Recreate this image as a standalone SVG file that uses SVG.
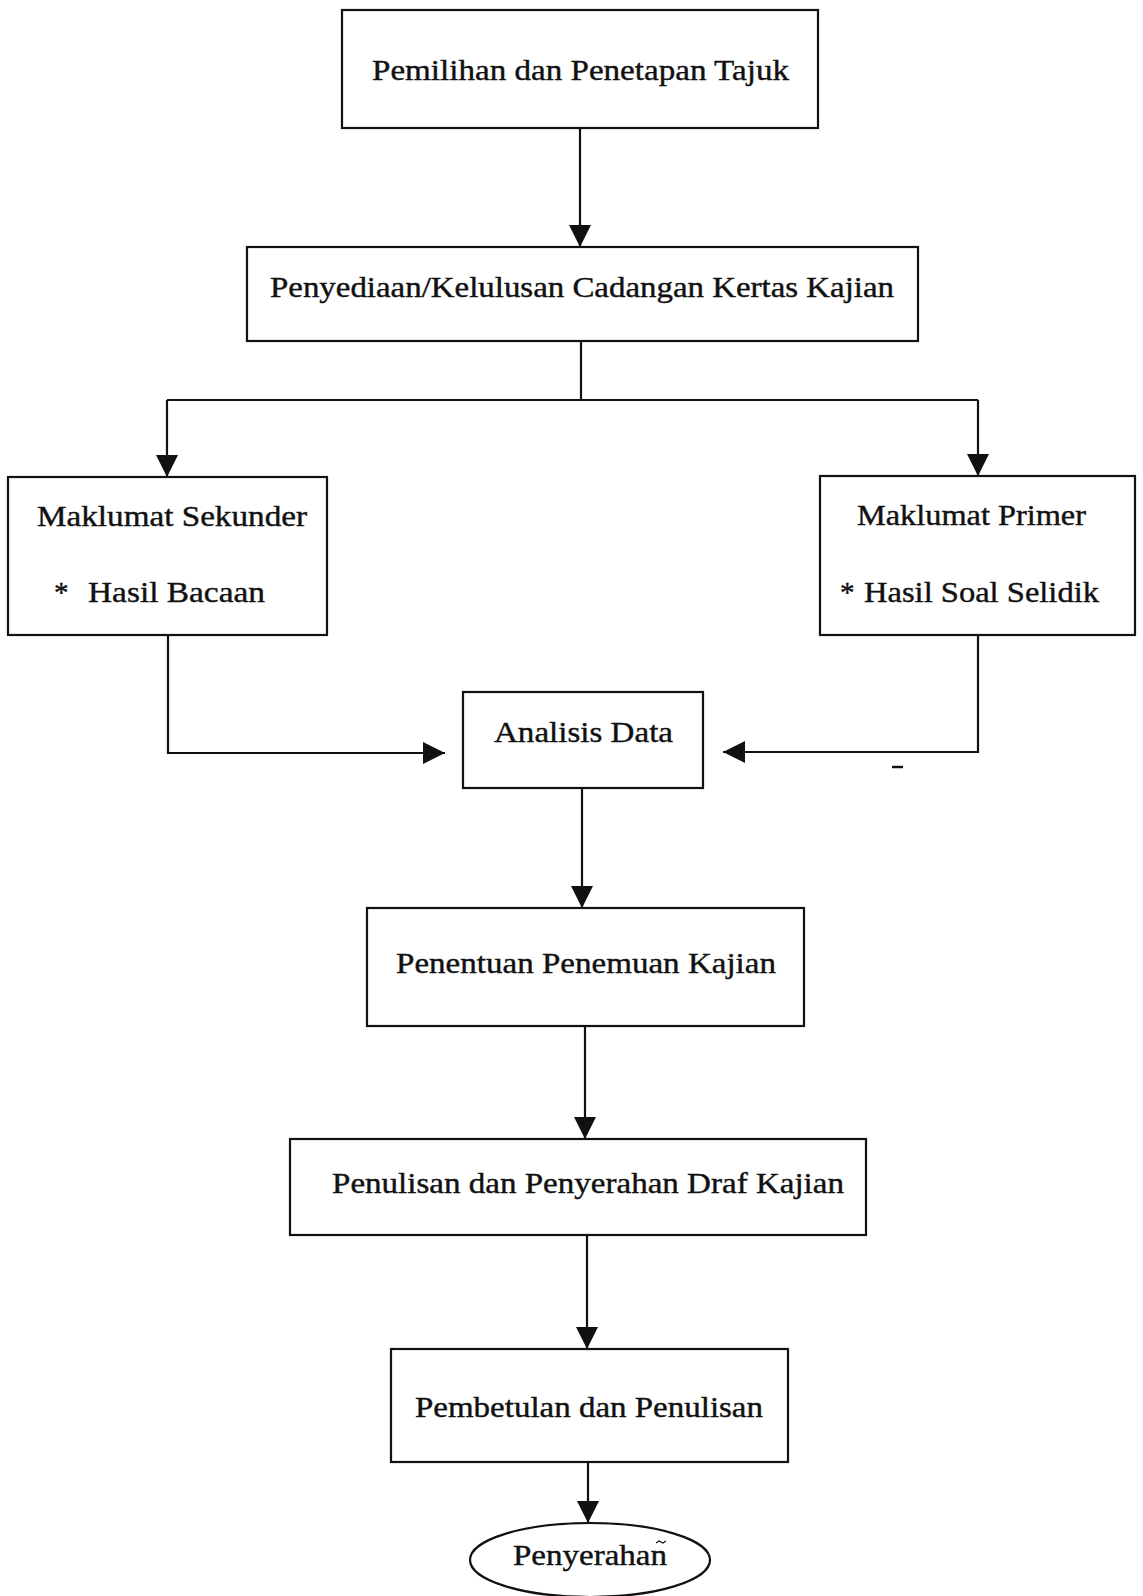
<svg xmlns="http://www.w3.org/2000/svg" width="1143" height="1596" viewBox="0 0 1143 1596">
<style>
.box{fill:#fff;stroke:#111;stroke-width:2.2}
.ln{fill:none;stroke:#111;stroke-width:2.2}
.t{font-family:'Liberation Serif',serif;font-size:29px;fill:#111;stroke:#111;stroke-width:0.4}
</style>
<defs>
<marker id="ah" markerUnits="userSpaceOnUse" markerWidth="22" markerHeight="22" refX="22" refY="11" orient="auto" viewBox="0 0 22 22">
<path d="M0,0 L22,11 L0,22 z" fill="#111"/>
</marker>
</defs>
<rect width="1143" height="1596" fill="#fff"/>
<g id="connectors">
<line class="ln" x1="580" y1="128" x2="580" y2="247" marker-end="url(#ah)"/>
<polyline class="ln" points="581,341 581,400"/>
<polyline class="ln" points="167,400 978,400"/>
<line class="ln" x1="167" y1="400" x2="167" y2="477" marker-end="url(#ah)"/>
<line class="ln" x1="978" y1="400" x2="978" y2="476" marker-end="url(#ah)"/>
<polyline class="ln" points="168,635 168,753 445,753" marker-end="url(#ah)"/>
<polyline class="ln" points="978,635 978,752 723,752" marker-end="url(#ah)"/>
<line class="ln" x1="582" y1="788" x2="582" y2="908" marker-end="url(#ah)"/>
<line class="ln" x1="585" y1="1026" x2="585" y2="1139" marker-end="url(#ah)"/>
<line class="ln" x1="587" y1="1235" x2="587" y2="1349" marker-end="url(#ah)"/>
<line class="ln" x1="588" y1="1462" x2="588" y2="1523" marker-end="url(#ah)"/>
</g>
<g id="n1">
<rect class="box" x="342" y="10" width="476" height="118"/>
<text class="t" x="372" y="80" textLength="417" lengthAdjust="spacingAndGlyphs">Pemilihan dan Penetapan Tajuk</text>
</g>
<g id="n2">
<rect class="box" x="247" y="247" width="671" height="94"/>
<text class="t" x="270" y="297" textLength="624" lengthAdjust="spacingAndGlyphs">Penyediaan/Kelulusan Cadangan Kertas Kajian</text>
</g>
<g id="n3">
<rect class="box" x="8" y="477" width="319" height="158"/>
<text class="t" x="37" y="526" textLength="270" lengthAdjust="spacingAndGlyphs">Maklumat Sekunder</text>
<text class="t" x="54" y="602">*</text>
<text class="t" x="88" y="602" textLength="177" lengthAdjust="spacingAndGlyphs">Hasil Bacaan</text>
</g>
<g id="n4">
<rect class="box" x="820" y="476" width="315" height="159"/>
<text class="t" x="857" y="525" textLength="229" lengthAdjust="spacingAndGlyphs">Maklumat Primer</text>
<text class="t" x="840" y="602">*</text>
<text class="t" x="864" y="602" textLength="235" lengthAdjust="spacingAndGlyphs">Hasil Soal Selidik</text>
</g>
<g id="n5">
<rect class="box" x="463" y="692" width="240" height="96"/>
<text class="t" x="494" y="742" textLength="179" lengthAdjust="spacingAndGlyphs">Analisis Data</text>
</g>
<line x1="892" y1="767" x2="903" y2="767" stroke="#111" stroke-width="2.5"/>
<g id="n6">
<rect class="box" x="367" y="908" width="437" height="118"/>
<text class="t" x="396" y="973" textLength="380" lengthAdjust="spacingAndGlyphs">Penentuan Penemuan Kajian</text>
</g>
<g id="n7">
<rect class="box" x="290" y="1139" width="576" height="96"/>
<text class="t" x="332" y="1193" textLength="512" lengthAdjust="spacingAndGlyphs">Penulisan dan Penyerahan Draf Kajian</text>
</g>
<g id="n8">
<rect class="box" x="391" y="1349" width="397" height="113"/>
<text class="t" x="415" y="1417" textLength="348" lengthAdjust="spacingAndGlyphs">Pembetulan dan Penulisan</text>
</g>
<g id="n9">
<ellipse class="box" cx="590" cy="1560" rx="120" ry="37"/>
<text class="t" x="513" y="1565" textLength="154" lengthAdjust="spacingAndGlyphs">Penyerahan</text>
<path d="M656,1543 l3,-2 l4,2 l3,-2" fill="none" stroke="#111" stroke-width="1.2"/>
</g>
</svg>
